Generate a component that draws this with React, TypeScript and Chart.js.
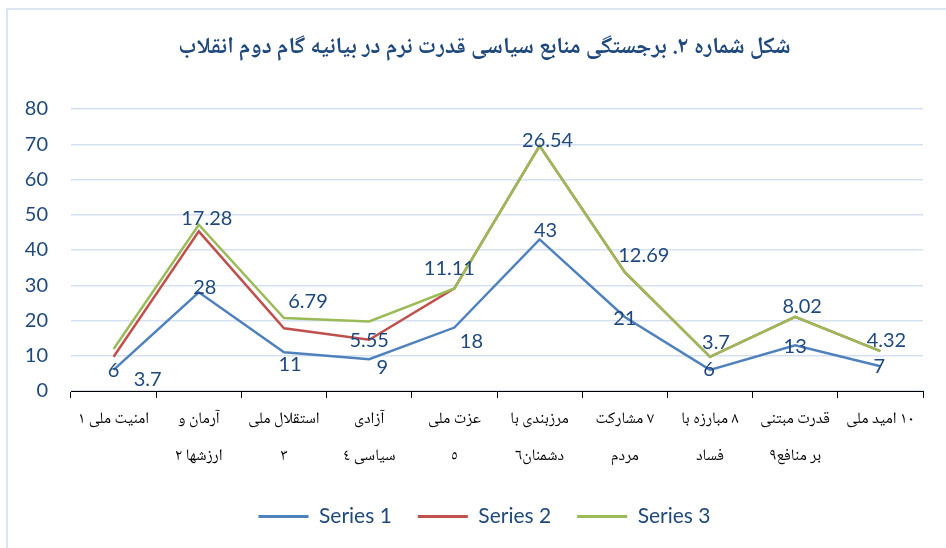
import React, { useEffect, useRef } from 'react';
import { Chart, registerables } from 'chart.js';

Chart.register(...registerables);

// ---- data ----
const titleText = 'شکل شماره ٢. برجستگی منابع سیاسی قدرت نرم در بیانیه گام دوم انقلاب';

const categories: string[][] = [
  ['امنیت ملی ١'],
  ['آرمان و', 'ارزشها ٢'],
  ['استقلال ملی', '٣'],
  ['آزادی', 'سیاسی ٤'],
  ['عزت ملی', '٥'],
  ['مرزبندی با', 'دشمنان٦'],
  ['٧ مشارکت', 'مردم'],
  ['٨ مبارزه با', 'فساد'],
  ['قدرت مبتنی', 'بر منافع٩'],
  ['١٠ امید ملی'],
];

const seriesNames = ['Series 1', 'Series 2', 'Series 3'];
const series1 = [6, 28, 11, 9, 18, 43, 21, 6, 13, 7];
const series2 = [3.7, 17.28, 6.79, 5.55, 11.11, 26.54, 12.69, 3.7, 8.02, 4.32];
const series3 = [2.2, 1.9, 2.9, 5.2, 0, 0, 0, 0, 0, 0];

const yMin = 0;
const yMax = 80;
const yStep = 10;

// ---- layout / style ----
const s1LabelOffsets = [[0, 1], [6, -5], [6, 12], [13, 8], [17, 14], [6, -9], [0, 2], [-1, 0], [0, 1], [-1, 0]];
const s2LabelOffsets = [[34, 23], [8, -13], [24, -27], [0, 1], [-5, -20], [8, -5], [19, -17], [6, -14], [7, -10], [6, -11]];

const colors = ['#4F81BD', '#C0504D', '#9BBB59'];
const textColor = '#1F497D';
const gridColor = '#D5E1F0';
const frameColor = '#DCE6F2';
const numFont = 'Lato, "Open Sans", sans-serif';
const arabicFont = '"Noto Naskh Arabic", "Noto Sans Arabic", "DejaVu Sans", serif';

const rtl = (s: string) => '\u202B' + s + '\u202C';

const pointLabelPlugin = {
  id: 'pointLabels',
  afterDatasetsDraw(chart: any) {
    const ctx = chart.ctx;
    ctx.save();
    ctx.font = '20px ' + numFont;
    ctx.fillStyle = textColor;
    ctx.textAlign = 'center';
    ctx.textBaseline = 'middle';
    const sets: [number[], number[][], number][] = [
      [series1, s1LabelOffsets, 0],
      [series2, s2LabelOffsets, 1],
    ];
    sets.forEach(([vals, offs, di]) => {
      const meta = chart.getDatasetMeta(di);
      meta.data.forEach((pt: any, i: number) => {
        ctx.fillText(String(vals[i]), pt.x + offs[i][0], pt.y + offs[i][1]);
      });
    });
    ctx.restore();
  },
};

export default function App() {
  const ref = useRef<HTMLCanvasElement>(null);

  useEffect(() => {
    const cum2 = series1.map((v, i) => v + series2[i]);
    const cum3 = cum2.map((v, i) => v + series3[i]);
    const values = [series1, cum2, cum3];
    const orders = [2, 1, 0];

    const chart = new Chart(ref.current as HTMLCanvasElement, {
      type: 'line',
      data: {
        labels: categories.map((l) => l.map(rtl)),
        datasets: values.map((d, i) => ({
          label: seriesNames[i],
          data: d,
          borderColor: colors[i],
          backgroundColor: colors[i],
          borderWidth: 2.5,
          pointRadius: 0,
          tension: 0,
          fill: false,
          order: orders[i],
        })),
      },
      options: {
        responsive: false,
        animation: false,
        layout: { padding: { top: 0, left: 23, right: 0, bottom: 11 } },
        plugins: {
          tooltip: { enabled: false },
          title: {
            display: true,
            text: rtl(titleText),
            color: textColor,
            font: { family: arabicFont, size: 23, weight: 'bold', lineHeight: 1.2 },
            padding: { top: 36, bottom: 45.4 },
          },
          legend: {
            position: 'bottom',
            labels: {
              boxWidth: 50,
              boxHeight: 3,
              padding: 26,
              color: textColor,
              font: { family: numFont, size: 21 },
              sort: (a: any, b: any) => a.datasetIndex - b.datasetIndex,
              generateLabels: (c: any) =>
                (Chart.defaults.plugins.legend.labels.generateLabels as any)(c).map((l: any) => ({
                  ...l,
                  lineWidth: 0,
                  fillStyle: l.strokeStyle,
                })),
            },
          },
        },
        scales: {
          x: {
            offset: true,
            grid: {
              offset: true,
              drawOnChartArea: false,
              drawTicks: true,
              tickLength: 7,
              color: '#000',
              lineWidth: 1,
            },
            border: { display: true, color: '#000', width: 1 },
            ticks: {
              autoSkip: false,
              maxRotation: 0,
              minRotation: 0,
              padding: 4,
              color: '#000',
              font: { family: arabicFont, size: 16, lineHeight: 2.3125 },
            },
            afterFit: (s: any) => {
              s.height = 89;
              s.paddingRight = 23;
              s.paddingLeft = 0;
            },
          },
          y: {
            min: yMin,
            max: yMax,
            ticks: {
              stepSize: yStep,
              padding: 23,
              color: textColor,
              font: { family: numFont, size: 20 },
            },
            grid: { color: gridColor, lineWidth: 1.5, drawTicks: false },
            border: { display: false },
            afterFit: (s: any) => {
              s.width = 48;
            },
          },
        },
      } as any,
      plugins: [pointLabelPlugin],
    });
    return () => chart.destroy();
  }, []);

  return (
    <div style={{ position: 'fixed', left: 0, top: 0, width: 946, height: 548, background: '#fff', overflow: 'hidden' }}>
      <div
        style={{
          position: 'absolute',
          left: 6,
          top: 8,
          width: 1000,
          height: 1000,
          borderLeft: `2px solid ${frameColor}`,
          borderTop: `2px solid ${frameColor}`,
        }}
      />
      <canvas ref={ref} width={946} height={548} style={{ position: 'absolute', left: 0, top: 0 }} />
    </div>
  );
}
